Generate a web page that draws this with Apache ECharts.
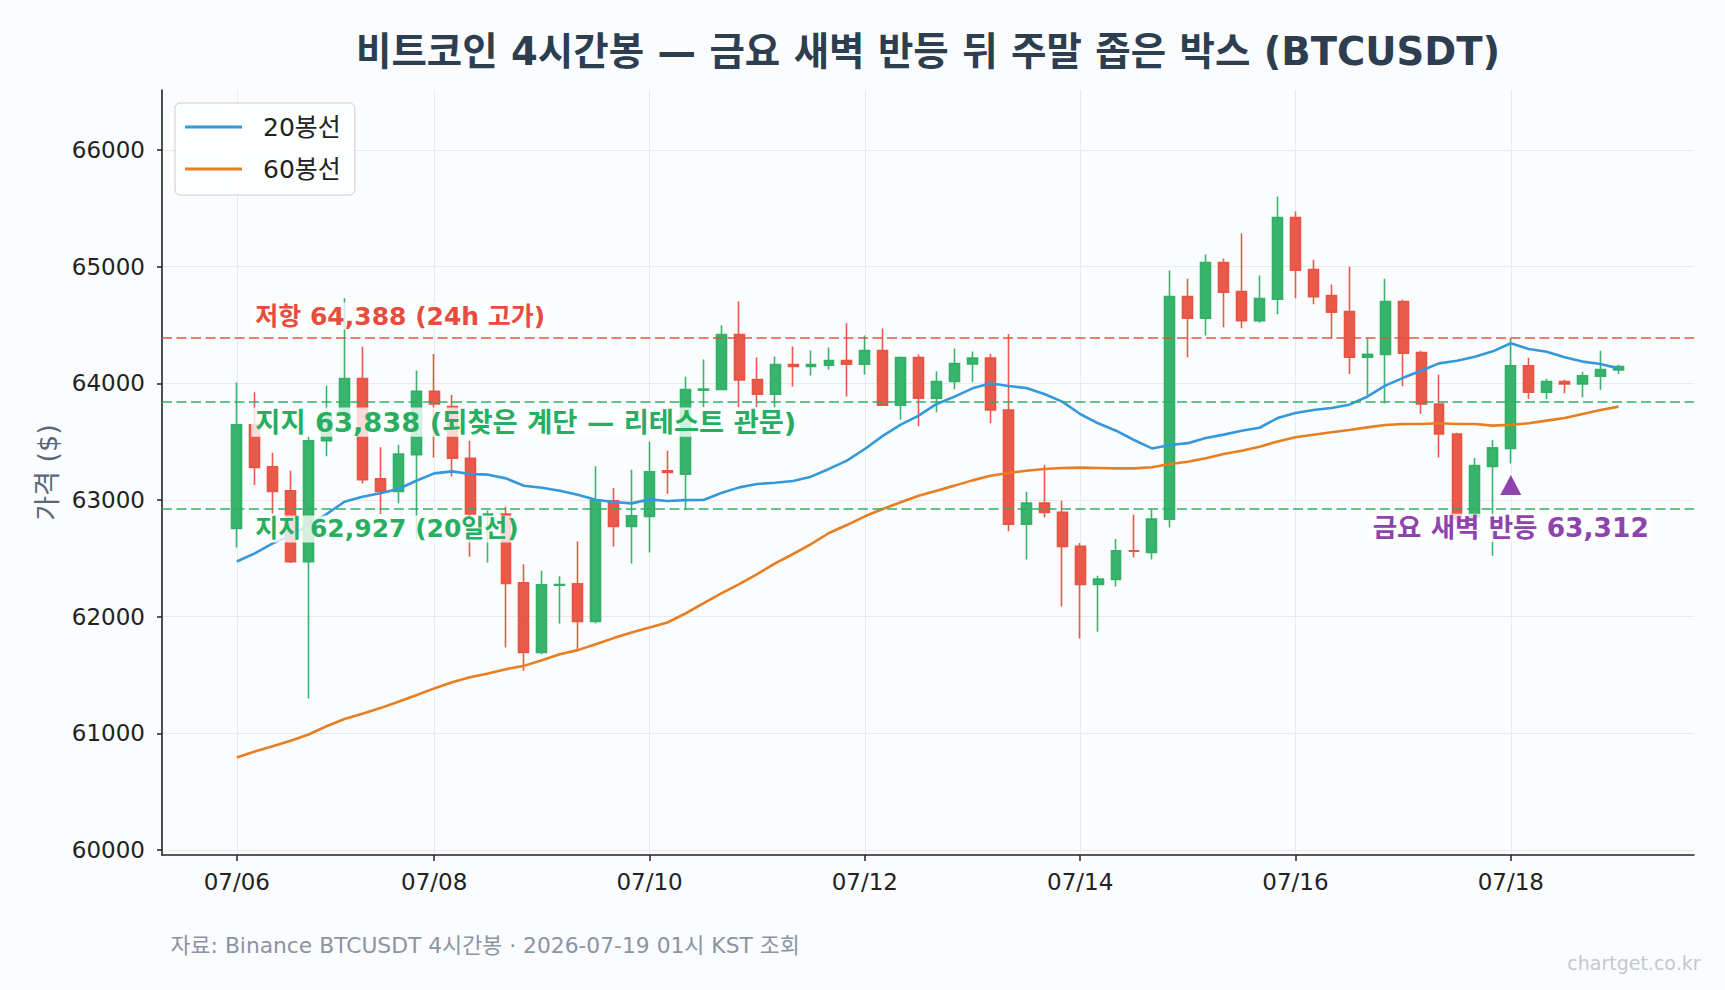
<!DOCTYPE html>
<html><head><meta charset="utf-8">
<script src="https://cdn.jsdelivr.net/npm/echarts@6/dist/echarts.min.js"></script>
<style>html,body{margin:0;padding:0;background:#fbfcfd}#c{width:1725px;height:990px}</style>
</head><body><div id="c"></div>
<script>
const FONT = "'DejaVu Sans','Noto Sans CJK KR',sans-serif";

// 4시간봉 (index 0 = 07/06 05시 KST ... index 77 = 07/19 01시 KST)
const openP = [62756,63645,63285,63079,62470,63508,63737,64040,63182,63074,
63388,63931,63800,63357,62870,62879,62290,61693,62270,62282,
61959,62994,62773,62859,63250,63222,63940,63948,64418,64032,
63906,64161,64145,64155,64195,64163,64281,63812,64221,63872,
64015,64166,64217,63771,62793,62974,62894,62602,62276,62319,
62565,62550,62836,64743,64557,65035,64786,64537,64720,65421,
64975,64752,64614,64223,64248,64700,64263,63822,63565,62850,
63288,63442,64151,63923,64014,63995,64060,64115];
const closeP = [63645,63279,63074,62470,63508,63737,64040,63174,63074,63394,
63931,63823,63357,62880,62880,62285,61693,62273,62276,61959,
62999,62773,62865,63242,63235,63946,63950,64417,64029,63906,
64161,64145,64160,64195,64163,64281,63812,64221,63872,64015,
64169,64217,63771,62793,62974,62894,62602,62276,62322,62565,
62560,62836,64743,64557,65035,64780,64537,64726,65421,64969,
64743,64609,64223,64248,64700,64257,63822,63565,62840,63294,
63448,64151,63923,64014,63995,64065,64117,64143];
const highP = [64006,63923,63405,63251,63543,63980,64730,64314,63451,63474,
64109,64252,63900,63508,62910,62942,62450,62393,62347,62645,
63288,63102,63259,63500,63422,64057,64203,64497,64701,64221,
64229,64315,64281,64306,64515,64409,64469,64229,64246,64101,
64298,64272,64252,64423,63071,63302,62994,62631,62350,62665,
62874,62922,64966,64897,65103,65069,65283,64923,65601,65472,
65060,64846,65000,64383,64897,64717,64280,64074,63577,63359,
63514,64388,64220,64040,64031,64100,64280,64160];
const lowP = [62593,63128,62885,62460,61298,63374,63700,63142,62879,62971,
62665,63365,63202,62513,62465,61736,61536,61678,61941,61707,
61941,62602,62456,62550,63051,62914,63794,63940,63795,63795,
63795,63972,64066,64118,63886,64075,63805,63689,63632,63752,
63949,64009,63657,62731,62490,62851,62087,61813,61870,62259,
62508,62490,62765,64223,64409,64480,64471,64520,64592,64729,
64677,64380,64080,63900,63828,63974,63737,63365,62820,62650,
62522,63312,63865,63865,63914,63880,63945,64080];
const ma20 = [62473,62542,62628,62693,62788,62879,62985,63028,63057,63094,
63165,63228,63245,63222,63217,63185,63122,63105,63079,63045,
63002,62982,62971,63005,62991,62999,63000,63060,63108,63137,
63148,63163,63200,63266,63337,63437,63549,63646,63723,63823,
63886,63957,64000,63977,63960,63908,63843,63737,63657,63594,
63514,63442,63471,63487,63531,63560,63594,63619,63702,63745,
63771,63788,63817,63885,63980,64047,64108,64171,64194,64228,
64274,64343,64294,64271,64223,64186,64166,64128];
const ma60 = [60793,60845,60890,60936,60990,61061,61122,61167,61216,61270,
61326,61385,61438,61480,61513,61550,61578,61627,61678,61713,
61764,61816,61864,61907,61950,62027,62113,62200,62279,62365,
62457,62537,62622,62717,62785,62860,62923,62980,63037,63080,
63123,63168,63208,63231,63251,63265,63274,63277,63274,63271,
63271,63280,63308,63328,63358,63394,63422,63456,63502,63537,
63559,63580,63600,63622,63642,63651,63651,63657,63651,63651,
63637,63645,63657,63680,63702,63737,63771,63800];

const xTickIndex = [0, 11, 23, 35, 47, 59, 71];
const xTickLabels = ['07/06','07/08','07/10','07/12','07/14','07/16','07/18'];
const yTicks = [60000, 61000, 62000, 63000, 64000, 65000, 66000];

const levelValues = [64388, 63838, 62927];
const levelLabels = ['저항 64,388 (24h 고가)', '지지 63,838 (되찾은 계단 — 리테스트 관문)', '지지 62,927 (20일선)'];
const reboundIndex = 71;
const reboundValue = 63312;
const reboundLabel = '금요 새벽 반등 63,312';

const RED = '#e74c3c', GREEN = '#27ae60', PURPLE = '#8e44ad';
const levelColors = ['rgba(231,76,60,0.72)', 'rgba(39,174,96,0.72)', 'rgba(39,174,96,0.72)'];
const levelText = [RED, GREEN, GREEN];
const levelOffsets = [-22, 20, 20.5];
const levelFont = [25, 27.3, 25];

const candleData = openP.map((o, i) => [i, o, closeP[i], lowP[i], highP[i]]);
const ma20Data = ma20.map((v, i) => [i, v]);
const ma60Data = ma60.map((v, i) => [i, v]);

const chart = echarts.init(document.getElementById('c'), null, {renderer: 'svg'});
const labelBase = {fontFamily: FONT, fontWeight: 'bold', backgroundColor: 'rgba(255,255,255,0.78)', padding: [1, 4]};

const option = {
  backgroundColor: '#fbfcfd',
  animation: false,
  title: [
    {text: '비트코인 4시간봉 — 금요 새벽 반등 뒤 주말 좁은 박스 (BTCUSDT)', left: 923, top: 46, textAlign: 'center', textVerticalAlign: 'middle',
     textStyle: {fontFamily: FONT, fontSize: 38.5, fontWeight: 'bold', color: '#2c3e50'}},
    {text: '자료: Binance BTCUSDT 4시간봉 · 2026-07-19 01시 KST 조회', left: 165.5, top: 940, textAlign: 'left', textVerticalAlign: 'middle',
     textStyle: {fontFamily: FONT, fontSize: 21.8, fontWeight: 'normal', color: '#8a94a3'}},
    {text: 'chartget.co.kr', left: 1695.5, top: 958, textAlign: 'right', textVerticalAlign: 'middle',
     textStyle: {fontFamily: FONT, fontSize: 19, fontWeight: 'normal', color: '#c2c8d1'}}
  ],
  legend: {
    orient: 'vertical', left: 175, top: 103,
    data: ['20봉선', '60봉선'],
    icon: 'rect', itemWidth: 57, itemHeight: 3, itemGap: 14,
    padding: [10, 14, 12, 10],
    borderColor: '#cccccc', borderWidth: 1, borderRadius: 5,
    backgroundColor: 'rgba(255,255,255,0.8)',
    textStyle: {fontFamily: FONT, fontSize: 25, color: '#222', lineHeight: 28, padding: [0, 0, 0, 16]}
  },
  grid: {left: 162, right: 31, top: 90, bottom: 135, containLabel: false, outerBoundsMode: 'none'},
  xAxis: {
    type: 'value', min: -4.17, max: 81.21,
    axisLine: {show: true, onZero: false, lineStyle: {color: '#222', width: 1.6}},
    axisTick: {show: true, customValues: xTickIndex, length: 6, lineStyle: {color: '#222', width: 1.5}},
    axisLabel: {customValues: xTickIndex, formatter: v => xTickLabels[xTickIndex.indexOf(Math.round(v))] || '',
      fontFamily: FONT, fontSize: 23, color: '#222', margin: 15},
    splitLine: {show: true, lineStyle: {color: '#e9eaee', width: 1}}
  },
  yAxis: {
    type: 'value', min: 59957, max: 66514,
    name: '가격 ($)', nameLocation: 'middle', nameGap: 99,
    nameTextStyle: {fontFamily: FONT, fontSize: 27, color: '#5a6778'},
    axisLine: {show: true, onZero: false, lineStyle: {color: '#222', width: 1.6}},
    axisTick: {show: true, customValues: yTicks, length: 5, lineStyle: {color: '#222', width: 1.5}},
    axisLabel: {customValues: yTicks, formatter: v => String(Math.round(v)), fontFamily: FONT, fontSize: 23, color: '#222', margin: 17},
    splitLine: {show: true, lineStyle: {color: '#e9eaee', width: 1}}
  },
  series: [
    {
      type: 'candlestick', name: 'BTCUSDT', data: candleData, barWidth: 10.4, z: 2,
      itemStyle: {color: 'rgba(39,174,96,0.92)', color0: 'rgba(231,76,60,0.92)',
        borderColor: 'rgba(39,174,96,0.92)', borderColor0: 'rgba(231,76,60,0.92)', borderWidth: 1.6},
      markLine: {
        silent: true, symbol: 'none', z: 4, label: {show: false},
        data: levelValues.map((v, k) => ({yAxis: v, lineStyle: {color: levelColors[k], type: [10, 4.5], width: 2}}))
      },
      markPoint: {
        silent: true, z: 6,
        data: levelValues.map((v, k) => ({
          coord: [1, v], symbol: 'rect', symbolSize: 1, itemStyle: {color: 'rgba(0,0,0,0)'},
          label: Object.assign({show: true, position: 'right', distance: 0, offset: [-4, levelOffsets[k]], formatter: levelLabels[k], color: levelText[k], fontSize: levelFont[k]}, labelBase)
        })).concat([
          {coord: [reboundIndex, 63128], symbol: 'triangle', symbolSize: [21, 20], itemStyle: {color: PURPLE}, label: {show: false}},
          {coord: [reboundIndex, 62760], symbol: 'rect', symbolSize: 1, itemStyle: {color: 'rgba(0,0,0,0)'},
           label: Object.assign({show: true, position: 'inside', formatter: reboundLabel, color: PURPLE, fontSize: 26.5}, labelBase)}
        ])
      }
    },
    {type: 'line', name: '20봉선', data: ma20Data, symbol: 'none', z: 3, color: '#3498db', lineStyle: {color: '#3498db', width: 2.6}},
    {type: 'line', name: '60봉선', data: ma60Data, symbol: 'none', z: 3, color: '#e67e22', lineStyle: {color: '#e67e22', width: 2.6}}
  ]
};
chart.setOption(option);
</script>
</body></html>
